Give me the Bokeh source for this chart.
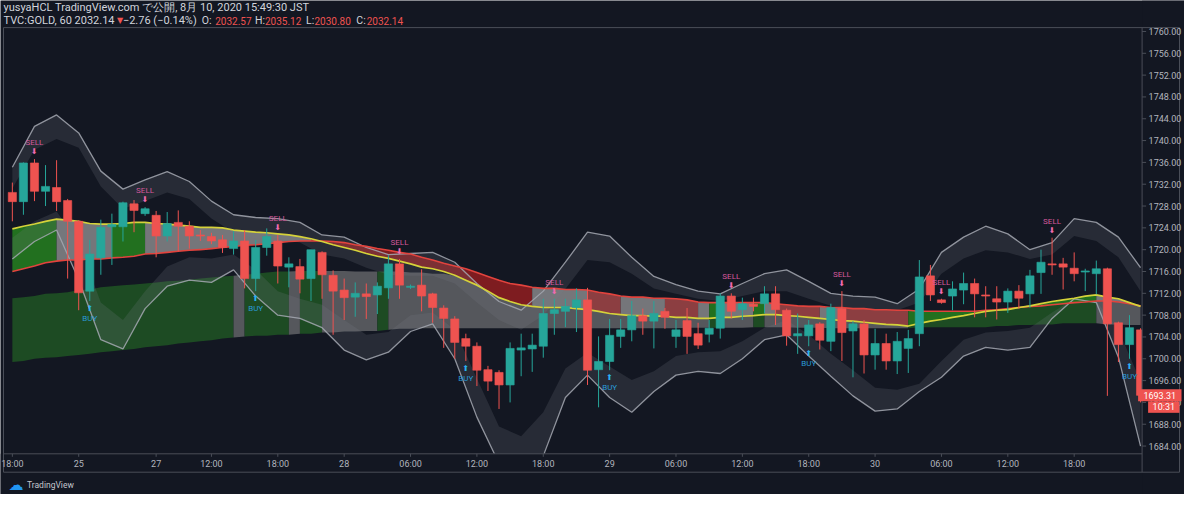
from bokeh.plotting import figure
from bokeh.models import Range1d, ColumnDataSource
from bokeh.core.properties import value
from bokeh.embed import file_html
from bokeh.resources import INLINE

BG = "#131722"

# ---------------- data ----------------
opens = [1730.5, 1728.8, 1735.9, 1730.7, 1731.4, 1729.0, 1725.2, 1712.4, 1718.5, 1724.2,
         1724.2, 1728.4, 1726.6, 1726.3, 1722.5, 1725.0, 1724.3, 1722.7, 1722.4, 1721.8,
         1720.2, 1721.6, 1714.7, 1720.4, 1721.6, 1716.8, 1716.9, 1714.7, 1719.5, 1715.3,
         1712.6, 1711.3, 1711.9, 1711.7, 1713.0, 1717.4, 1713.1, 1713.5, 1711.9, 1709.3,
         1707.3, 1703.7, 1702.3, 1698.0, 1697.5, 1695.2, 1701.6, 1701.8, 1702.3, 1708.3,
         1708.7, 1709.4, 1710.8, 1698.0, 1699.5, 1704.1, 1705.3, 1707.9, 1706.9, 1708.7,
         1704.1, 1707.0, 1704.6, 1704.5, 1705.6, 1711.5, 1709.0, 1710.0, 1710.1, 1711.9,
         1708.9, 1704.2, 1704.2, 1706.4, 1703.2, 1709.2, 1705.1, 1706.4, 1700.7, 1702.8,
         1699.6, 1701.9, 1704.6, 1715.2, 1710.8, 1711.5, 1712.6, 1713.8, 1711.7, 1711.0,
         1710.4, 1712.4, 1711.9, 1715.8, 1717.4, 1717.4, 1716.6, 1715.9, 1715.6, 1716.5,
         1706.6, 1702.6, 1705.3]
highs = [1732.3, 1736.0, 1736.6, 1735.5, 1736.4, 1729.3, 1725.4, 1721.8, 1725.5, 1726.6,
         1728.8, 1729.1, 1727.8, 1727.1, 1726.9, 1727.2, 1725.2, 1723.6, 1723.1, 1722.7,
         1723.4, 1723.6, 1721.8, 1723.9, 1722.7, 1718.6, 1718.3, 1720.0, 1719.7, 1716.2,
         1714.7, 1714.0, 1713.8, 1714.0, 1719.0, 1718.3, 1713.6, 1716.4, 1712.1, 1709.8,
         1707.8, 1704.6, 1703.0, 1698.7, 1697.9, 1703.0, 1704.6, 1704.6, 1711.0, 1711.0,
         1711.0, 1712.9, 1713.0, 1704.1, 1707.3, 1707.3, 1710.6, 1709.2, 1710.6, 1709.3,
         1707.1, 1709.3, 1706.6, 1707.1, 1712.0, 1712.0, 1711.2, 1711.2, 1713.3, 1713.3,
         1709.2, 1708.3, 1707.1, 1706.7, 1710.1, 1712.4, 1706.9, 1707.1, 1705.5, 1704.6,
         1704.9, 1705.3, 1718.1, 1717.2, 1711.0, 1714.2, 1715.8, 1714.7, 1713.3, 1713.3,
         1712.9, 1713.5, 1716.3, 1720.0, 1722.2, 1718.5, 1719.5, 1716.5, 1718.0, 1716.7,
         1706.8, 1708.0, 1705.6]
lows = [1725.2, 1726.4, 1728.9, 1728.0, 1727.1, 1714.7, 1708.9, 1710.6, 1715.4, 1717.2,
        1721.5, 1723.2, 1726.2, 1718.6, 1721.5, 1719.7, 1720.2, 1721.6, 1721.0, 1719.4,
        1719.1, 1712.9, 1712.4, 1718.9, 1713.8, 1713.1, 1712.0, 1710.6, 1711.0, 1704.4,
        1707.1, 1707.7, 1707.3, 1708.2, 1711.0, 1711.0, 1712.8, 1708.7, 1706.6, 1702.0,
        1700.0, 1699.6, 1695.0, 1694.1, 1690.8, 1692.0, 1696.8, 1697.6, 1700.2, 1704.4,
        1705.8, 1704.9, 1695.2, 1691.1, 1697.9, 1702.0, 1703.2, 1704.4, 1701.9, 1705.5,
        1702.0, 1700.9, 1701.8, 1703.0, 1703.7, 1707.4, 1707.1, 1708.7, 1708.3, 1706.2,
        1702.4, 1700.9, 1702.3, 1701.7, 1701.4, 1699.6, 1696.6, 1697.3, 1698.0, 1698.0,
        1697.2, 1697.4, 1702.3, 1710.6, 1710.1, 1708.9, 1710.0, 1707.6, 1707.6, 1707.2,
        1708.4, 1709.2, 1709.4, 1711.9, 1715.4, 1712.7, 1714.2, 1712.4, 1711.8, 1693.2,
        1699.4, 1700.0, 1692.0]
closes = [1728.8, 1735.9, 1730.7, 1731.6, 1728.8, 1725.2, 1712.1, 1719.2, 1724.1, 1724.6,
          1728.6, 1727.2, 1727.5, 1722.5, 1724.8, 1724.3, 1722.5, 1722.5, 1721.6, 1720.4,
          1721.6, 1714.7, 1720.4, 1722.4, 1717.0, 1717.4, 1714.6, 1720.0, 1715.4, 1712.4,
          1711.2, 1712.0, 1711.4, 1713.3, 1717.4, 1713.5, 1713.3, 1711.5, 1709.4, 1707.4,
          1703.0, 1702.3, 1697.9, 1695.9, 1695.2, 1701.9, 1702.0, 1702.5, 1708.3, 1709.0,
          1709.6, 1710.8, 1697.9, 1699.5, 1704.3, 1705.3, 1707.9, 1706.9, 1708.3, 1707.6,
          1705.3, 1704.1, 1702.5, 1705.6, 1711.5, 1708.7, 1710.1, 1709.6, 1711.9, 1709.0,
          1704.2, 1704.6, 1706.2, 1703.4, 1709.4, 1704.8, 1706.4, 1700.7, 1702.8, 1699.6,
          1703.2, 1703.7, 1715.0, 1711.7, 1710.3, 1712.8, 1713.8, 1711.9, 1711.5, 1710.4,
          1712.4, 1711.1, 1715.2, 1717.7, 1717.2, 1716.8, 1715.6, 1716.1, 1716.5, 1706.4,
          1702.6, 1705.7, 1693.3]

# ribbon: fast (yellow) and slow (red) averages, one value per bar
ribbon_fast = [1723.8, 1724.3, 1724.7, 1725.2, 1725.6, 1725.4, 1725.2, 1724.8, 1724.7, 1724.7,
               1724.8, 1725.0, 1725.0, 1724.8, 1724.7, 1724.5, 1724.3, 1724.1, 1724.1, 1724.0,
               1723.6, 1723.4, 1723.2, 1723.1, 1722.9, 1722.7, 1722.4, 1722.0, 1721.5, 1720.9,
               1720.4, 1719.9, 1719.3, 1718.8, 1718.4, 1717.9, 1717.4, 1716.8, 1716.5, 1716.0,
               1715.3, 1714.4, 1713.5, 1712.4, 1711.2, 1710.5, 1709.9, 1709.6, 1709.4, 1709.4,
               1709.4, 1709.2, 1709.0, 1708.7, 1708.3, 1708.1, 1707.9, 1707.9, 1707.8, 1707.8,
               1707.6, 1707.6, 1707.4, 1707.4, 1707.6, 1707.6, 1707.8, 1707.9, 1708.1, 1708.1,
               1707.9, 1707.8, 1707.6, 1707.4, 1707.2, 1707.0, 1706.9, 1706.7, 1706.5, 1706.3,
               1706.2, 1706.0, 1706.5, 1706.9, 1707.2, 1707.6, 1707.9, 1708.3, 1708.7, 1708.9,
               1709.0, 1709.4, 1709.7, 1710.1, 1710.5, 1710.8, 1711.1, 1711.5, 1711.7, 1711.3,
               1711.0, 1710.3, 1709.6]
ribbon_slow = [1716.0, 1716.5, 1717.0, 1717.6, 1717.9, 1718.1, 1718.1, 1718.3, 1718.3, 1718.5,
               1718.6, 1718.8, 1719.2, 1719.3, 1719.5, 1719.7, 1719.9, 1720.0, 1720.2, 1720.4,
               1720.6, 1720.8, 1720.9, 1721.1, 1721.3, 1721.5, 1721.6, 1721.6, 1721.6, 1721.5,
               1721.3, 1720.9, 1720.6, 1720.2, 1719.9, 1719.5, 1719.2, 1718.6, 1718.1, 1717.5,
               1717.0, 1716.5, 1715.8, 1715.1, 1714.4, 1713.8, 1713.5, 1713.1, 1712.9, 1712.9,
               1712.7, 1712.7, 1712.6, 1712.2, 1711.9, 1711.5, 1711.3, 1711.3, 1711.1, 1711.1,
               1711.0, 1710.8, 1710.4, 1710.3, 1710.3, 1710.3, 1710.3, 1710.3, 1710.3, 1710.1,
               1709.9, 1709.7, 1709.6, 1709.6, 1709.4, 1709.4, 1709.2, 1709.2, 1709.0, 1709.0,
               1708.9, 1708.9, 1708.7, 1708.7, 1708.7, 1708.7, 1708.7, 1708.7, 1708.9, 1709.0,
               1709.2, 1709.4, 1709.6, 1709.7, 1709.9, 1710.1, 1710.3, 1710.4, 1710.6, 1710.6,
               1710.4, 1710.1, 1709.7]
# lower cloud: top and bottom edges, one value per bar
cloud_top = [1711.1, 1711.3, 1711.5, 1711.9, 1712.0, 1712.2, 1712.6, 1712.7, 1713.1, 1713.3,
             1713.5, 1713.6, 1713.8, 1714.0, 1714.2, 1714.3, 1714.5, 1714.7, 1714.9, 1715.1,
             1715.2, 1715.4, 1715.6, 1715.8, 1716.0, 1716.0, 1716.1, 1716.1, 1716.1, 1716.1,
             1716.1, 1716.0, 1716.0, 1716.0, 1716.0, 1716.0, 1715.8, 1715.8, 1715.6, 1715.6,
             1715.2, 1714.4, 1713.5, 1712.4, 1711.2, 1710.5, 1709.9, 1709.6, 1709.4, 1709.4,
             1709.4, 1709.2, 1709.0, 1708.7, 1708.3, 1708.1, 1707.9, 1707.9, 1707.8, 1707.8,
             1707.6, 1707.6, 1707.4, 1707.4, 1707.6, 1707.6, 1707.8, 1707.9, 1708.1, 1708.1,
             1707.9, 1707.8, 1707.6, 1707.4, 1707.2, 1707.0, 1706.9, 1706.7, 1706.5, 1706.3,
             1706.2, 1706.0, 1706.5, 1706.9, 1707.2, 1707.6, 1707.9, 1708.3, 1708.7, 1708.9,
             1709.0, 1709.4, 1709.6, 1709.7, 1709.9, 1710.1, 1710.3, 1710.4, 1710.6, 1710.6,
             1710.4, 1710.1, 1709.6]
cloud_bottom = [1699.4, 1699.6, 1700.0, 1700.2, 1700.3, 1700.5, 1700.7, 1700.9, 1701.2, 1701.4,
                1701.6, 1701.8, 1702.1, 1702.3, 1702.5, 1702.8, 1703.0, 1703.2, 1703.4, 1703.7,
                1703.9, 1704.1, 1704.2, 1704.2, 1704.4, 1704.4, 1704.6, 1704.6, 1704.8, 1704.8,
                1705.0, 1705.0, 1705.1, 1705.1, 1705.3, 1705.5, 1705.5, 1705.6, 1705.6, 1705.6,
                1705.6, 1705.6, 1705.6, 1705.6, 1705.6, 1705.6, 1705.6, 1705.6, 1705.6, 1705.6,
                1705.6, 1705.6, 1705.6, 1705.6, 1705.6, 1705.6, 1705.6, 1705.6, 1705.6, 1705.6,
                1705.6, 1705.7, 1705.7, 1705.7, 1705.7, 1705.7, 1705.7, 1705.8, 1705.8, 1705.8,
                1705.8, 1705.7, 1705.7, 1705.7, 1705.6, 1705.6, 1705.6, 1705.6, 1705.6, 1705.6,
                1705.6, 1705.6, 1705.8, 1705.8, 1705.8, 1705.8, 1705.8, 1705.8, 1705.8, 1706.0,
                1706.0, 1706.2, 1706.2, 1706.3, 1706.3, 1706.5, 1706.5, 1706.5, 1706.5, 1706.3,
                1706.3, 1706.2, 1706.2]

# outer envelope, sampled every second bar
band_bars = list(range(0, 103, 2))
band_upper = [1735.1, 1742.6, 1744.7, 1741.4, 1734.4, 1731.1, 1732.8, 1734.3, 1732.5, 1728.9,
              1726.4, 1725.9, 1725.7, 1725.0, 1722.7, 1722.3, 1720.4, 1719.1, 1719.3, 1719.5,
              1717.7, 1713.8, 1710.5, 1708.9, 1712.4, 1717.7, 1723.2, 1722.5, 1718.6, 1715.1,
              1713.6, 1712.4, 1711.9, 1713.8, 1715.6, 1716.3, 1714.2, 1712.0, 1711.5, 1711.3,
              1710.1, 1712.8, 1719.5, 1722.3, 1724.3, 1722.9, 1720.0, 1721.3, 1725.7, 1725.0,
              1722.3, 1716.7]
band_upper_inner = [1731.2, 1738.3, 1740.3, 1738.7, 1731.6, 1727.5, 1728.9, 1730.5, 1729.3, 1725.7,
                    1723.1, 1722.0, 1722.0, 1721.3, 1719.1, 1718.4, 1716.7, 1715.4, 1715.2, 1715.2,
                    1713.8, 1710.3, 1707.1, 1705.3, 1708.0, 1712.8, 1718.1, 1717.7, 1715.6, 1712.9,
                    1711.9, 1711.0, 1710.6, 1711.5, 1712.4, 1712.4, 1711.0, 1709.7, 1709.2, 1709.0,
                    1708.9, 1710.3, 1715.6, 1718.4, 1719.9, 1719.5, 1718.3, 1719.1, 1722.5, 1721.6,
                    1718.6, 1712.4]
band_lower = [1718.3, 1721.5, 1723.6, 1714.5, 1703.5, 1701.8, 1709.2, 1713.3, 1714.4, 1714.0,
              1716.3, 1711.5, 1708.0, 1707.4, 1705.7, 1701.6, 1699.8, 1701.2, 1705.0, 1706.4,
              1700.0, 1689.3, 1680.8, 1678.3, 1682.2, 1692.9, 1697.0, 1692.9, 1690.2, 1694.0,
              1697.0, 1697.7, 1697.3, 1700.0, 1703.5, 1704.4, 1700.5, 1696.8, 1693.2, 1690.4,
              1690.8, 1694.0, 1696.6, 1700.5, 1702.1, 1701.6, 1702.1, 1707.4, 1711.0, 1710.3,
              1700.3, 1684.0]
band_lower_inner = [1722.2, 1725.2, 1727.0, 1721.3, 1710.3, 1707.1, 1712.4, 1716.9, 1718.6, 1718.4,
                    1719.1, 1716.3, 1712.4, 1711.0, 1709.9, 1707.1, 1704.4, 1704.9, 1708.0, 1708.5,
                    1705.3, 1696.4, 1687.6, 1685.8, 1690.2, 1698.2, 1701.1, 1698.6, 1696.1, 1697.7,
                    1700.5, 1701.2, 1701.4, 1703.2, 1705.7, 1707.1, 1704.4, 1700.9, 1697.9, 1694.7,
                    1694.3, 1695.4, 1699.6, 1703.5, 1704.8, 1705.1, 1705.7, 1708.5, 1711.0, 1710.6,
                    1705.3, 1695.9]

# state of each stretch of bars (first bar, last bar, state)
ribbon_states = [(0, 4, "up"), (4, 9, "flat"), (9, 12, "up"), (12, 27, "flat"), (27, 47, "down"),
                 (47, 52, "flat"), (52, 55, "down2"), (55, 59, "flat"), (59, 62, "down2"),
                 (62, 63, "flat"), (63, 64, "up"), (64, 67, "flat"), (67, 68, "up"), (68, 69, "flat"),
                 (69, 73, "down2"), (73, 75, "flat"), (75, 81, "down2"), (81, 98, "up"), (98, 102, "flat")]
cloud_states = [(0, 20, "up"), (20, 21, "flat"), (21, 25, "up"), (25, 26, "flat"), (26, 28, "up"),
                (28, 33, "flat"), (33, 34, "up"), (34, 63, "flat"), (63, 64, "up"), (64, 67, "flat"),
                (67, 68, "up"), (68, 81, "flat"), (81, 98, "up"), (98, 102, "flat")]

sell_bars = [2, 12, 24, 35, 49, 65, 75, 84, 94]
buy_bars = [7, 22, 41, 54, 72, 101]

price_ticks = [1684, 1688, 1692, 1696, 1700, 1704, 1708, 1712, 1716, 1720,
               1724, 1728, 1732, 1736, 1740, 1744, 1748, 1752, 1756, 1760]
time_tick_bars = [0, 6, 13, 18, 24, 30, 36, 42, 48, 54, 60, 66, 72, 78, 84, 90, 96]
time_tick_labels = ["18:00", "25", "27", "12:00", "18:00", "28", "06:00", "12:00", "18:00",
                    "29", "06:00", "12:00", "18:00", "30", "06:00", "12:00", "18:00"]

header_line1 = "yusyaHCL TradingView.com \u3067\u516c\u958b, 8\u6708 10, 2020 15:49:30 JST"
last_price_text = "1693.31"
last_time_text = "10:31"

n = len(closes)
assert all(len(a) == n for a in [opens, highs, lows, ribbon_fast, ribbon_slow, cloud_top, cloud_bottom])
assert all(len(a) == len(band_bars) for a in [band_upper, band_upper_inner, band_lower, band_lower_inner])
bars = list(range(n))

# ---------------- layout: one frame covering the whole canvas ----------------
W, H = 1184, 494
PANE_L, PANE_R, PANE_T, PANE_B = 3.0, 1141.6, 27.1, 453.3   # chart pane in canvas px
X_LO, X_HI = -0.8, 102.14                                    # bars visible in the pane
Y_HI, Y_LO = 1760.71, 1682.58                                # prices visible in the pane
XPP = (X_HI - X_LO) / (PANE_R - PANE_L)
YPP = (Y_HI - Y_LO) / (PANE_B - PANE_T)


def X(px):
    return X_LO + (px - PANE_L) * XPP


def Y(py):
    return Y_HI - (py - PANE_T) * YPP


p = figure(width=W, height=H, output_backend="svg", toolbar_location=None,
           x_range=Range1d(X(0), X(W)), y_range=Range1d(Y(H), Y(0)),
           x_axis_location=None, y_axis_location=None,
           min_border=0, min_border_left=0, min_border_right=0, min_border_top=0, min_border_bottom=0,
           background_fill_color=BG, border_fill_color=BG)
p.grid.visible = False
p.outline_line_color = None

# ---------------- cloud + ribbon fills ----------------
cloud_colors = {"up": "#1d4b23", "flat": "#55575c"}
ribbon_colors = {"up": "#22701f", "flat": "#75767a", "down": "#7e1c20", "down2": "#8c3e41"}

for a, b, s in cloud_states:
    p.varea(x=bars[a:b + 1], y1=cloud_top[a:b + 1], y2=cloud_bottom[a:b + 1],
            fill_color=cloud_colors[s], fill_alpha=1.0)
for a, b, s in ribbon_states:
    p.varea(x=bars[a:b + 1], y1=ribbon_fast[a:b + 1], y2=ribbon_slow[a:b + 1],
            fill_color=ribbon_colors[s], fill_alpha=1.0)

# ---------------- outer envelope ----------------
p.varea(x=band_bars, y1=band_upper, y2=band_upper_inner, fill_color="#787b86", fill_alpha=0.2)
p.varea(x=band_bars, y1=band_lower, y2=band_lower_inner, fill_color="#787b86", fill_alpha=0.2)
p.line(band_bars, band_upper, line_color="#a5a8b1", line_alpha=0.85, line_width=1.3)
p.line(band_bars, band_lower, line_color="#a5a8b1", line_alpha=0.85, line_width=1.3)

p.line(bars, ribbon_slow, line_color="#e2433d", line_width=1.6)
p.line(bars, ribbon_fast, line_color="#d5d23a", line_width=1.7)

# ---------------- candles ----------------
UP, DOWN = "#26a69a", "#ef5350"
cols = [UP if c >= o else DOWN for o, c in zip(opens, closes)]
src = ColumnDataSource(dict(x=bars, o=opens, h=highs, l=lows, c=closes,
                            top=[max(o, c) for o, c in zip(opens, closes)],
                            bot=[min(o, c) for o, c in zip(opens, closes)], col=cols))
p.segment(x0="x", y0="l", x1="x", y1="h", line_color="col", line_width=1, source=src)
p.vbar(x="x", top="top", bottom="bot", width=0.74, fill_color="col", line_color="col",
       line_width=0.6, source=src)

# ---------------- signals ----------------
sell_src = ColumnDataSource(dict(x=sell_bars, y=[highs[i] for i in sell_bars]))
buy_src = ColumnDataSource(dict(x=buy_bars, y=[lows[i] for i in buy_bars]))
p.text(x="x", y="y", text=value("SELL"), source=sell_src, y_offset=-16.5, text_align="center",
       text_baseline="middle", text_font_size="8px", text_color="#d3589b", text_font=value("Roboto"))
p.text(x="x", y="y", text=value("\u2b07"), source=sell_src, y_offset=-7.5, text_align="center",
       text_baseline="middle", text_font_size="8px", text_color="#f06ab0", text_font=value("DejaVu Sans"))
p.text(x="x", y="y", text=value("BUY"), source=buy_src, y_offset=17.5, text_align="center",
       text_baseline="middle", text_font_size="8px", text_color="#2a9ad8", text_font=value("Roboto"))
p.text(x="x", y="y", text=value("\u2b06"), source=buy_src, y_offset=7.5, text_align="center",
       text_baseline="middle", text_font_size="8px", text_color="#2ab2f2", text_font=value("DejaVu Sans"))

# ---------------- axis panes (mask what spills out of the chart pane) ----------------
p.quad(left=[X(0), X(PANE_R)], right=[X(W), X(W)], bottom=[Y(H), Y(H)], top=[Y(PANE_B), Y(0)],
       fill_color=BG, line_color=None)

AXC = "#4a4e58"
TXT = "#b2b5be"
RIGHT_EDGE, BOTTOM_EDGE = 1179.0, 471.7
p.segment(x0=[X(PANE_L), X(PANE_L), X(PANE_L), X(PANE_L), X(PANE_R), X(RIGHT_EDGE)],
          y0=[Y(PANE_T), Y(PANE_B), Y(BOTTOM_EDGE), Y(PANE_T), Y(PANE_T), Y(PANE_T)],
          x1=[X(RIGHT_EDGE), X(PANE_R), X(RIGHT_EDGE), X(PANE_L), X(PANE_R), X(RIGHT_EDGE)],
          y1=[Y(PANE_T), Y(PANE_B), Y(BOTTOM_EDGE), Y(BOTTOM_EDGE), Y(BOTTOM_EDGE), Y(BOTTOM_EDGE)],
          line_color=AXC, line_width=1)

# price scale
k = len(price_ticks)
p.segment(x0=[X(PANE_R)] * k, x1=[X(PANE_R + 4)] * k, y0=price_ticks, y1=price_ticks,
          line_color=AXC, line_width=1)
p.text(x=[X(PANE_R + 6.5)] * k, y=price_ticks, text=[f"{t:.2f}" for t in price_ticks],
       text_align="left", text_baseline="middle", text_font_size="9px", text_color=TXT,
       text_font=value("Roboto"))

# time scale
m = len(time_tick_bars)
p.segment(x0=time_tick_bars, x1=time_tick_bars, y0=[Y(PANE_B)] * m, y1=[Y(PANE_B + 3)] * m,
          line_color=AXC, line_width=1)
p.text(x=time_tick_bars, y=[Y(463.0)] * m, text=time_tick_labels, text_align="center",
       text_baseline="middle", text_font_size="9px", text_color=TXT, text_font=value("Roboto"))

# last price tags
p.quad(left=[X(1137.6)], right=[X(1181.0)], top=[closes[-1] + 6 * YPP], bottom=[closes[-1] - 6 * YPP],
       fill_color=DOWN, line_color=None)
p.text(x=[X(1159.3)], y=[closes[-1]], text=[last_price_text], text_align="center", text_baseline="middle",
       text_font_size="9px", text_color="#ffffff", text_font=value("Roboto"))
p.quad(left=[X(1147.6)], right=[X(1179.0)], top=[closes[-1] - 6 * YPP], bottom=[closes[-1] - 17.5 * YPP],
       fill_color=DOWN, line_color=None)
p.text(x=[X(1163.3)], y=[closes[-1] - 11.7 * YPP], text=[last_time_text], text_align="center",
       text_baseline="middle", text_font_size="9px", text_color="#ffffff", text_font=value("Roboto"))


# ---------------- header / footer texts ----------------
def txt(s, px, py, color, size="11px", font="Roboto"):
    p.text(x=[X(px)], y=[Y(py)], text=[s], text_color=color, text_font_size=size,
           text_font=value(font), text_align="left", text_baseline="middle")


LIGHT = "#d1d4dc"
txt(header_line1, 3, 7.3, LIGHT)
txt("TVC:GOLD, 60 2032.14", 3, 20.2, LIGHT)
txt("\u25bc", 116.5, 19.8, DOWN, size="8px", font="DejaVu Sans")
txt("\u22122.76 (\u22120.14%)", 122.4, 20.2, LIGHT)
txt("O:", 201.3, 20.2, LIGHT, size="10.5px")
txt("2032.57", 214.7, 20.2, DOWN, size="10px")
txt("H:", 254.6, 20.2, LIGHT, size="10.5px")
txt("2035.12", 264.5, 20.2, DOWN, size="10px")
txt("L:", 305.6, 20.2, LIGHT, size="10.5px")
txt("2030.80", 313.9, 20.2, DOWN, size="10px")
txt("C:", 355.8, 20.2, LIGHT, size="10.5px")
txt("2032.14", 366.2, 20.2, DOWN, size="10px")

txt("\u2601", 8, 484.5, "#2196f3", size="15px", font="DejaVu Sans")
txt("TradingView", 26.5, 484.5, "#c3c6ce", size="8.5px")

open("out.html", "w").write(file_html(p, INLINE))
